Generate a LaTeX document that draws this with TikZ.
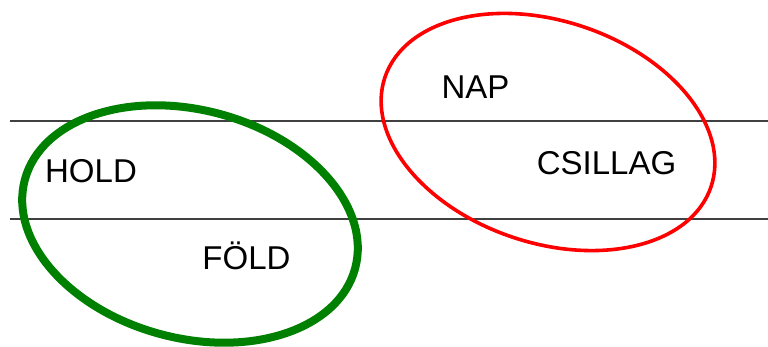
\documentclass[tikz,border=0pt]{standalone}
\usepackage{fontspec}
\setmainfont{Liberation Sans}
\tikzset{
  rule/.style={draw=black!75, line width=1pt},
  word/.style={anchor=base, inner sep=0pt, font=\fontsize{16.5}{19}\selectfont},
  greenring/.style={draw=green!50!black, line width=4pt},
  redring/.style={draw=red, line width=1.8pt}
}
\begin{document}
\begin{tikzpicture}[x=0.5pt, y=-0.5pt]
\useasboundingbox (0,0) rectangle (768,347);
\foreach \y in {121.5, 219} % the two lines
\draw[rule] (10,\y) -- (768,\y);
\draw[greenring] (190,224) ellipse [x radius=171, y radius=114, rotate=-15];
\draw[redring] (548,132) ellipse [x radius=172, y radius=111, rotate=-18.5];
\node[word] (hold) at (91,183) {HOLD};
\node[word] (fold) at (246.5,270) {FÖLD};
\node[word] (nap) at (475.5,99) {NAP};
\node[word] (csillag) at (606.5,175) {CSILLAG};
\end{tikzpicture}
\end{document}
